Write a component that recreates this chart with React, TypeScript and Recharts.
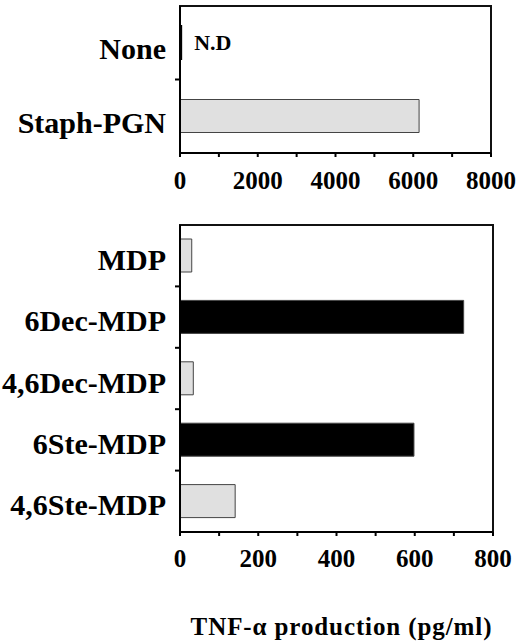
import React from 'react';
import { BarChart, Bar, XAxis, YAxis, Cell, LabelList, Label, ReferenceArea } from 'recharts';

// ---- data ----
const topCategories = ['None', 'Staph-PGN'];
const topValues = [30, 6150];
const topNotes = ['N.D', ''];
const topFills = ['#000000', '#e0e0e0'];
const topTicks = [0, 1000, 2000, 3000, 4000, 5000, 6000, 7000, 8000];

const bottomCategories = ['MDP', '6Dec-MDP', '4,6Dec-MDP', '6Ste-MDP', '4,6Ste-MDP'];
const bottomValues = [30, 725, 34, 598, 141];
const bottomFills = ['#e0e0e0', '#000000', '#e0e0e0', '#000000', '#e0e0e0'];
const bottomTicks = [0, 100, 200, 300, 400, 500, 600, 700, 800];

const xTitle = 'TNF-\u03b1 production (pg/ml)';

const FONT = "'Liberation Serif', 'Times New Roman', serif";

const topData = topCategories.map((name, i) => ({ name, value: topValues[i], note: topNotes[i] }));
const bottomData = bottomCategories.map((name, i) => ({ name, value: bottomValues[i] }));

const TICK_MARGIN = 14;

const makeCatTick = (shift: number) => (props: any) => {
  const { x, y, payload, index, visibleTicksCount } = props;
  const half = payload && typeof payload.offset === 'number' ? payload.offset : 0;
  const axisX = Number(x) + TICK_MARGIN;
  const isLast = index === visibleTicksCount - 1;
  const sepY = Number(y) + half;
  return (
    <g>
      <text
        x={x}
        y={Number(y) + shift}
        dy="0.35em"
        textAnchor="end"
        fontFamily={FONT}
        fontWeight="bold"
        fontSize={30}
        fill="#000"
      >
        {payload.value}
      </text>
      {!isLast && half > 0 ? (
        <path d={`M${axisX - 5},${sepY}H${axisX}`} stroke="#000" strokeWidth={2} fill="none" />
      ) : null}
    </g>
  );
};

const numTickStyle = { fontFamily: FONT, fontWeight: 'bold', fontSize: 25, fill: '#000' };

const NoteLabel = (props: any) => {
  const { x, y, width, height, value } = props;
  if (!value) return null;
  return (
    <text
      x={x + width + 13}
      y={y + height / 2}
      dy="0.35em"
      fontFamily={FONT}
      fontWeight="bold"
      fontSize={22}
      fill="#000"
    >
      {value}
    </text>
  );
};

export default function App() {
  return (
    <div style={{ position: 'fixed', left: 0, top: 0, width: 526, height: 644, background: '#fff' }}>
      <div style={{ position: 'absolute', left: 0, top: 0 }}>
        <BarChart
          width={526}
          height={200}
          data={topData}
          layout="vertical"
          margin={{ top: 6, right: 35, bottom: 0, left: 0 }}
          barCategoryGap={0}
        >
          <XAxis
            type="number"
            domain={[0, 8000]}
            ticks={topTicks}
            interval={0}
            height={47}
            tickSize={4}
            tickMargin={14}
            tickLine={{ stroke: '#000', strokeWidth: 2 }}
            axisLine={{ stroke: '#000', strokeWidth: 2 }}
            tick={numTickStyle}
            tickFormatter={(v: number) => (v % 2000 === 0 ? String(v) : '')}
          />
          <YAxis
            type="category"
            dataKey="name"
            width={180}
            tickSize={0}
            tickMargin={TICK_MARGIN}
            tickLine={false}
            interval={0}
            axisLine={{ stroke: '#000', strokeWidth: 2 }}
            tick={makeCatTick(6)}
          />
          <ReferenceArea x1={0} x2={8000} fill="none" fillOpacity={0} stroke="#111" strokeWidth={2} />
          <Bar dataKey="value" barSize={33} stroke="#444" strokeWidth={1} isAnimationActive={false}>
            {topData.map((d, i) => (
              <Cell key={d.name} fill={topFills[i]} stroke={i === 0 ? '#000' : '#444'} strokeWidth={i === 0 ? 2 : 1} />
            ))}
            <LabelList dataKey="note" content={NoteLabel} />
          </Bar>
        </BarChart>
      </div>
      <div style={{ position: 'absolute', left: 0, top: 200 }}>
        <BarChart
          width={526}
          height={444}
          data={bottomData}
          layout="vertical"
          margin={{ top: 25, right: 33, bottom: 0, left: 0 }}
          barCategoryGap={0}
        >
          <XAxis
            type="number"
            domain={[0, 800]}
            ticks={bottomTicks}
            interval={0}
            height={112}
            tickSize={4}
            tickMargin={13}
            tickLine={{ stroke: '#000', strokeWidth: 2 }}
            axisLine={{ stroke: '#000', strokeWidth: 2 }}
            tick={numTickStyle}
            tickFormatter={(v: number) => (v % 200 === 0 ? String(v) : '')}
          >
            <Label
              value={xTitle}
              position="insideBottom"
              offset={9}
              dx={5}
              style={{ fontFamily: FONT, fontWeight: 'bold', fontSize: 25, fill: '#000', letterSpacing: 0.9 }}
            />
          </XAxis>
          <YAxis
            type="category"
            dataKey="name"
            width={180}
            tickSize={0}
            tickMargin={TICK_MARGIN}
            tickLine={false}
            interval={0}
            axisLine={{ stroke: '#000', strokeWidth: 2 }}
            tick={makeCatTick(3.5)}
          />
          <ReferenceArea x1={0} x2={800} fill="none" fillOpacity={0} stroke="#111" strokeWidth={2} />
          <Bar dataKey="value" barSize={33} stroke="#444" strokeWidth={1} isAnimationActive={false}>
            {bottomData.map((d, i) => (
              <Cell key={d.name} fill={bottomFills[i]} />
            ))}
          </Bar>
        </BarChart>
      </div>
    </div>
  );
}
